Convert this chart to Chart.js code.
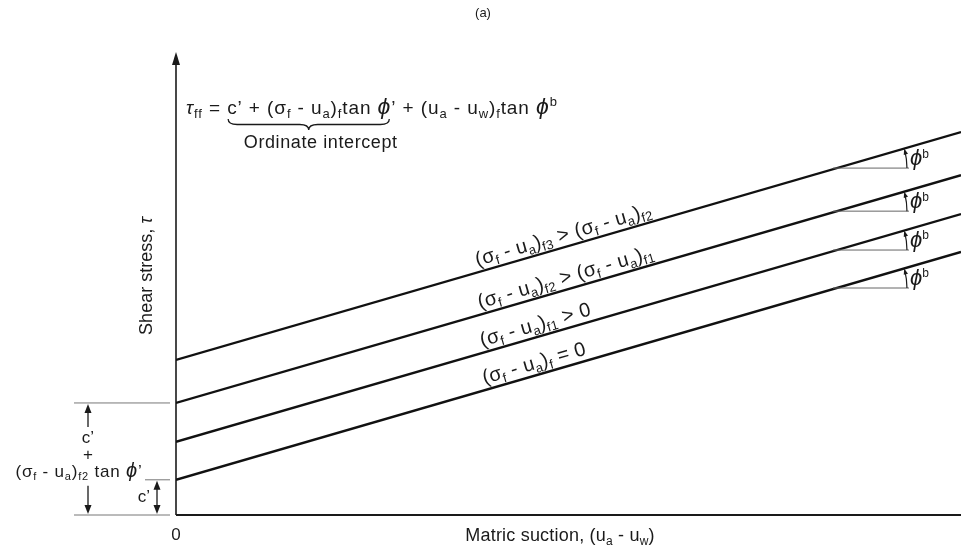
<!DOCTYPE html>
<html>
<head>
<meta charset="utf-8">
<script src="https://cdn.jsdelivr.net/npm/chart.js@4"></script>
<style>
  html, body { margin: 0; padding: 0; background: #fff; }
  #wrap { width: 961px; height: 546px; position: relative; }
</style>
</head>
<body>
<div id="wrap"><canvas id="c" width="961" height="546"></canvas></div>
<script>
// Matric suction (ua - uw), arbitrary units from the origin to the right edge
const suction = [0, 100];
// Shear strength envelopes for increasing net normal stress (σf - ua)f
const shearF3 = [33.5, 82.7];
const shearF2 = [24.2, 73.4];
const shearF1 = [15.8, 65.0];
const shearF0 = [7.6, 56.8];
const envelopes = [shearF3, shearF2, shearF1, shearF0];

// Envelope labels written along each line (text, subscript / superscript marks)
const envelopeLabels = [
  [['(σ',''],['f','sub'],[' - u',''],['a','sub'],[')',''],['f3','sub'],[' > (σ',''],['f','sub'],[' - u',''],['a','sub'],[')',''],['f2','sub']],
  [['(σ',''],['f','sub'],[' - u',''],['a','sub'],[')',''],['f2','sub'],[' > (σ',''],['f','sub'],[' - u',''],['a','sub'],[')',''],['f1','sub']],
  [['(σ',''],['f','sub'],[' - u',''],['a','sub'],[')',''],['f1','sub'],[' > 0','']],
  [['(σ',''],['f','sub'],[' - u',''],['a','sub'],[')',''],['f','sub'],[' = 0','']]
];

const FONT = '"Liberation Sans", Arial, Helvetica, sans-serif';
const INK = '#1a1a1a';

function setFont(ctx, size, italic) {
  ctx.font = (italic ? 'italic ' : '') + size + 'px ' + FONT;
}

// 'phi' runs are set a little larger, as the Greek phi is in the lettering
function partSize(mode, size) {
  if (mode === 'sub' || mode === 'sup') return Math.round(size * 0.66);
  if (mode === 'phi') return Math.round(size * 1.2);
  return size;
}

function richWidth(ctx, parts, size) {
  let w = 0;
  for (const [t, m] of parts) {
    setFont(ctx, partSize(m, size), m === 'i' || m === 'phi');
    w += ctx.measureText(t).width;
  }
  return w;
}

// Draws text runs on an alphabetic baseline; returns the x extent of each run
function drawRich(ctx, parts, x, y, size, align, spacing) {
  ctx.save();
  ctx.letterSpacing = (spacing || 0) + 'px';
  let cx = x;
  if (align === 'center') cx -= richWidth(ctx, parts, size) / 2;
  const spans = [];
  ctx.textBaseline = 'alphabetic';
  ctx.textAlign = 'left';
  for (const [t, m] of parts) {
    const s = partSize(m, size);
    setFont(ctx, s, m === 'i' || m === 'phi');
    let dy = 0;
    if (m === 'sub') dy = size * 0.2;
    if (m === 'sup') dy = -size * 0.42;
    ctx.fillText(t, cx, y + dy);
    const w = ctx.measureText(t).width;
    spans.push([cx, cx + w]);
    cx += w;
  }
  ctx.restore();
  return spans;
}

function arrowHead(ctx, tipX, tipY, dirX, dirY, len, half) {
  const n = Math.hypot(dirX, dirY);
  const ux = dirX / n, uy = dirY / n;
  const bx = tipX - ux * len, by = tipY - uy * len;
  ctx.beginPath();
  ctx.moveTo(tipX, tipY);
  ctx.lineTo(bx - uy * half, by + ux * half);
  ctx.lineTo(bx + uy * half, by - ux * half);
  ctx.closePath();
  ctx.fill();
}

const diagramPlugin = {
  id: 'diagram',
  beforeDatasetsDraw(chart) {
    const { ctx, scales: { x, y } } = chart;
    const x0 = x.getPixelForValue(0), y0 = y.getPixelForValue(0);
    const yTop = y.getPixelForValue(100);
    ctx.save();
    ctx.strokeStyle = INK; ctx.fillStyle = INK;
    // ordinate with arrow
    ctx.lineWidth = 1.6;
    ctx.beginPath(); ctx.moveTo(x0, y0); ctx.lineTo(x0, yTop + 10); ctx.stroke();
    arrowHead(ctx, x0, yTop, 0, -1, 13, 4);
    // abscissa
    ctx.lineWidth = 2;
    ctx.beginPath(); ctx.moveTo(x0, y0); ctx.lineTo(x.getPixelForValue(100), y0); ctx.stroke();
    ctx.restore();
  },
  afterDatasetsDraw(chart) {
    const { ctx, scales: { x, y } } = chart;
    const x0 = x.getPixelForValue(0), y0 = y.getPixelForValue(0);
    ctx.save();
    ctx.fillStyle = INK; ctx.strokeStyle = INK;

    // caption
    setFont(ctx, 13, false);
    ctx.textAlign = 'center'; ctx.textBaseline = 'middle';
    ctx.fillText('(a)', 483, 13);

    // origin and axis titles
    setFont(ctx, 17, false);
    ctx.fillText('0', x0, 535);
    drawRich(ctx, [['Matric suction, (u',''],['a','sub'],[' - u',''],['w','sub'],[')','']], 560, 541, 18, 'center', 0.2);
    ctx.save();
    ctx.translate(152, 276);
    ctx.rotate(-Math.PI / 2);
    drawRich(ctx, [['Shear stress, ',''],['τ','i']], 0, 0, 18, 'center');
    ctx.restore();

    // failure criterion with brace under the ordinate intercept
    const spans = drawRich(ctx, [
      ['τ','i'],['ff','sub'],[' = ',''],['c\u2019 + (σ',''],['f','sub'],[' - u',''],['a','sub'],[')',''],['f','sub'],['tan ',''],['ϕ','phi'],['\u2019',''],
      [' + (u',''],['a','sub'],[' - u',''],['w','sub'],[')',''],['f','sub'],['tan ',''],['ϕ','phi'],['b','sup']
    ], 186, 114, 19, 'left', 0.9);
    const bx1 = spans[3][0] + 1, bx2 = spans[10][1] - 2, bm = (bx1 + bx2) / 2;
    const by = 119, bh = 11, q = 9;
    ctx.lineWidth = 1.3;
    ctx.beginPath();
    ctx.moveTo(bx1, by);
    ctx.quadraticCurveTo(bx1, by + bh / 2, bx1 + q, by + bh / 2);
    ctx.lineTo(bm - q, by + bh / 2);
    ctx.quadraticCurveTo(bm, by + bh / 2, bm, by + bh);
    ctx.quadraticCurveTo(bm, by + bh / 2, bm + q, by + bh / 2);
    ctx.lineTo(bx2 - q, by + bh / 2);
    ctx.quadraticCurveTo(bx2, by + bh / 2, bx2, by);
    ctx.stroke();
    drawRich(ctx, [['Ordinate intercept','']], bm + 12, 148, 18, 'center', 0.6);

    // labels along each envelope
    envelopes.forEach((vals, i) => {
      const ax = x.getPixelForValue(suction[0]), ay = y.getPixelForValue(vals[0]);
      const bx = x.getPixelForValue(suction[1]), byy = y.getPixelForValue(vals[1]);
      const ang = Math.atan2(byy - ay, bx - ax);
      const sx = x.getPixelForValue(38.6 + i * 0.3);
      const sy = ay + (sx - ax) * Math.tan(ang);
      ctx.save();
      ctx.translate(sx, sy);
      ctx.rotate(ang);
      drawRich(ctx, envelopeLabels[i], 0, -6, 20, 'left', 0.3);
      ctx.restore();

      // angle φb between envelope and horizontal
      const mx = x.getPixelForValue(84.2);
      const my = ay + (mx - ax) * Math.tan(ang);
      const r = 70;
      ctx.strokeStyle = '#666';
      ctx.lineWidth = 1;
      ctx.beginPath(); ctx.moveTo(mx - 4, my); ctx.lineTo(mx + r + 2, my); ctx.stroke();
      ctx.strokeStyle = INK;
      ctx.lineWidth = 1.2;
      ctx.beginPath(); ctx.arc(mx, my, r, ang + 0.035, 0); ctx.stroke();
      const a = ang;
      arrowHead(ctx, mx + r * Math.cos(a), my + r * Math.sin(a), Math.sin(a), -Math.cos(a), 6, 2.2);
      drawRich(ctx, [['ϕ','phi'],['b','sup']], mx + r + 3, my - 3, 18, 'left');
    });

    // intercept dimensions at the left of the ordinate
    const yc2 = y.getPixelForValue(shearF2[0]);
    const yc0 = y.getPixelForValue(shearF0[0]);
    ctx.strokeStyle = '#777';
    ctx.lineWidth = 1;
    ctx.beginPath();
    ctx.moveTo(74, yc2); ctx.lineTo(x0 - 6, yc2);
    ctx.moveTo(74, y0); ctx.lineTo(x0 - 6, y0);
    ctx.moveTo(145, yc0); ctx.lineTo(x0 - 6, yc0);
    ctx.stroke();

    ctx.strokeStyle = INK; ctx.fillStyle = INK;
    ctx.lineWidth = 1.3;
    const ax1 = 88;
    ctx.beginPath();
    ctx.moveTo(ax1, yc2 + 6); ctx.lineTo(ax1, yc2 + 24);
    ctx.moveTo(ax1, yc0 + 6); ctx.lineTo(ax1, y0 - 6);
    ctx.stroke();
    arrowHead(ctx, ax1, yc2 + 1, 0, -1, 9, 3.5);
    arrowHead(ctx, ax1, y0 - 1, 0, 1, 9, 3.5);
    setFont(ctx, 17, false);
    ctx.textAlign = 'center'; ctx.textBaseline = 'middle';
    ctx.fillText('c\u2019', ax1, yc2 + 35);
    ctx.fillText('+', ax1, yc2 + 52);
    drawRich(ctx, [['(σ',''],['f','sub'],[' - u',''],['a','sub'],[')',''],['f2','sub'],[' tan ',''],['ϕ','phi'],['\u2019','']], 79, yc2 + 74, 17, 'center', 0.8);

    const ax2 = 157;
    ctx.beginPath(); ctx.moveTo(ax2, yc0 + 6); ctx.lineTo(ax2, y0 - 6); ctx.stroke();
    arrowHead(ctx, ax2, yc0 + 1, 0, -1, 9, 3.5);
    arrowHead(ctx, ax2, y0 - 1, 0, 1, 9, 3.5);
    setFont(ctx, 17, false);
    ctx.textAlign = 'center'; ctx.textBaseline = 'middle';
    ctx.fillText('c\u2019', 144, (yc0 + y0) / 2);

    ctx.restore();
  }
};

const lineStyle = { borderColor: '#111', borderWidth: 2.4, pointRadius: 0, showLine: true, fill: false, tension: 0 };

new Chart(document.getElementById('c'), {
  type: 'scatter',
  data: {
    datasets: envelopes.map(vals => Object.assign({
      data: suction.map((s, i) => ({ x: s, y: vals[i] }))
    }, lineStyle))
  },
  options: {
    responsive: false,
    animation: false,
    layout: { padding: { left: 176, right: 0, top: 52, bottom: 31 } },
    plugins: { legend: { display: false }, tooltip: { enabled: false } },
    scales: {
      x: { type: 'linear', min: 0, max: 100, display: false },
      y: { type: 'linear', min: 0, max: 100, display: false }
    }
  },
  plugins: [diagramPlugin]
});
</script>
</body>
</html>
